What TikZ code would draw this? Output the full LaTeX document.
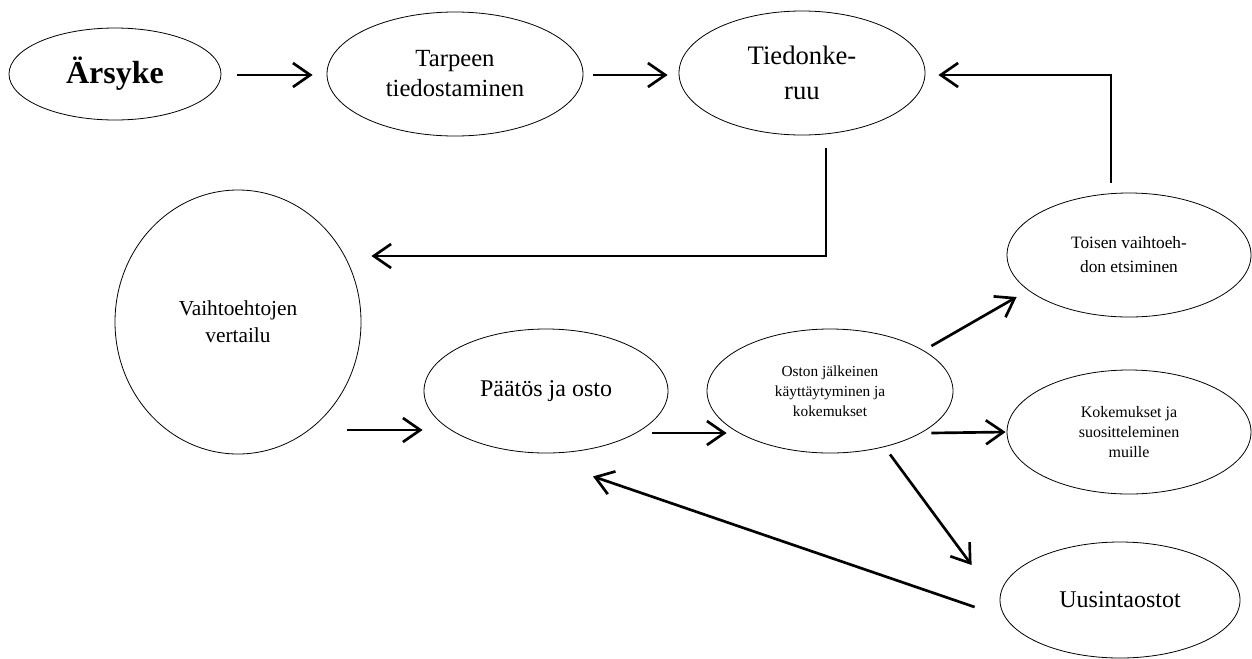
\documentclass[tikz,border=0pt]{standalone}
\usepackage{fontspec}
\setmainfont{Liberation Serif}
\usetikzlibrary{shapes.geometric,arrows.meta,calc}

\tikzset{every picture/.style={line width=0.75pt}}
\tikzset{
  phase/.style={draw, ellipse, inner sep=0pt, align=center, line width=0.6pt},
  flowarrow/.style={line width=2pt, -{Straight Barb[length=13pt,width=18pt]}},
}

\begin{document}
\begin{tikzpicture}[x=0.75pt,y=0.75pt,yscale=-1,xscale=1]
\useasboundingbox (0,0) rectangle (1252,658);

%Shape: Ellipse [arsyke]
\node [phase, minimum width=159pt, minimum height=69pt, font=\fontsize{24}{28}\selectfont\bfseries] (arsyke) at (115,74) {Ärsyke};
%Shape: Ellipse [tarpeen]
\node [phase, minimum width=192pt, minimum height=93pt, font=\fontsize{18.5}{22.5}\selectfont] (tarpeen) at (455,74) {Tarpeen\\tiedostaminen};
%Shape: Ellipse [tiedon]
\node [phase, minimum width=184.5pt, minimum height=93pt, font=\fontsize{20}{26}\selectfont] (tiedon) at (802,73) {Tiedonke-\\ruu};
%Shape: Ellipse [vaihto]
\node [phase, minimum width=184.5pt, minimum height=198pt, font=\fontsize{16}{20}\selectfont] (vaihto) at (238,322) {Vaihtoehtojen\\vertailu};
%Shape: Ellipse [paatos]
\node [phase, minimum width=183pt, minimum height=93pt, font=\fontsize{18}{22}\selectfont] (paatos) at (546,391) {Päätös ja osto};
%Shape: Ellipse [oston]
\node [phase, minimum width=184.5pt, minimum height=93pt, font=\fontsize{11.5}{15}\selectfont] (oston) at (830,391) {Oston jälkeinen\\käyttäytyminen ja\\kokemukset};
%Shape: Ellipse [toisen]
\node [phase, minimum width=183pt, minimum height=93pt, font=\fontsize{13}{18}\selectfont] (toisen) at (1129,255) {Toisen vaihtoeh-\\don etsiminen};
%Shape: Ellipse [koke]
\node [phase, minimum width=183pt, minimum height=93pt, font=\fontsize{12}{15}\selectfont] (koke) at (1129,432) {Kokemukset ja\\suositteleminen\\muille};
%Shape: Ellipse [uusinta]
\node [phase, minimum width=180pt, minimum height=87pt, font=\fontsize{18}{22}\selectfont] (uusinta) at (1120,600) {Uusintaostot};

%Straight Lines
\draw [flowarrow] ($(arsyke.east)+(16,1)$) -- ($(tarpeen.west)+(-14,1)$);
\draw [flowarrow] ($(tarpeen.east)+(10,1)$) -- ($(tiedon.west)+(-11,2)$);
%Elbow Lines
\draw [flowarrow] ($(toisen.north)+(-18,-10)$) |- ($(tiedon.east)+(13,2)$);
\draw [flowarrow] ($(tiedon.south)+(24,13)$) |- ($(vaihto.east)+(10,-66)$);
%Straight Lines
\draw [flowarrow] ($(vaihto.east)+(-14,108)$) -- ($(paatos.west)+(-1,39)$);
\draw [flowarrow] ($(paatos.east)+(-16,42)$) -- ($(oston.west)+(20,42)$);
\draw [flowarrow] ($(oston.east)+(-22,-45)$) -- ($(toisen.west)+(10,42)$);
\draw [flowarrow] ($(oston.east)+(-22,42)$) -- ($(koke.west)+(-1,0)$);
\draw [flowarrow] ($(oston.south)+(60,1)$) -- ($(uusinta.west)+(-28,-35)$);
\draw [flowarrow] ($(uusinta.west)+(-25,7)$) -- ($(paatos.south)+(47,23)$);

\end{tikzpicture}
\end{document}
